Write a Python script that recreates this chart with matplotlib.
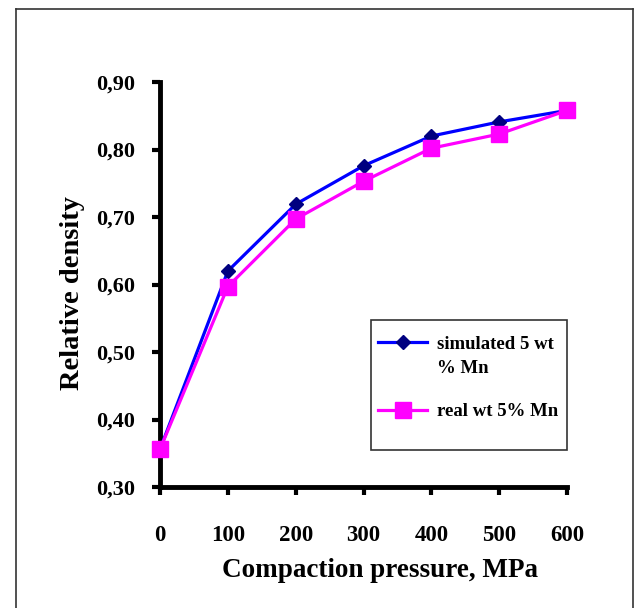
import matplotlib.pyplot as plt
from matplotlib.lines import Line2D
from matplotlib.patches import Rectangle
from matplotlib.ticker import FuncFormatter

pressure = [0, 100, 200, 300, 400, 500, 600]
simulated = [0.356, 0.620, 0.719, 0.776, 0.820, 0.841, 0.858]
real = [0.356, 0.597, 0.697, 0.753, 0.802, 0.823, 0.858]
yticks = [0.30, 0.40, 0.50, 0.60, 0.70, 0.80, 0.90]

plt.rcParams['font.family'] = ['Liberation Serif', 'DejaVu Serif']
plt.rcParams['font.weight'] = 'bold'

fig = plt.figure(figsize=(6.35, 6.08), dpi=100)
ax = fig.add_axes([0.252, 0.199, 0.641, 0.666])

# outer frame (open at the bottom)
for xs, ys in [([0.025, 0.025], [-0.1, 0.986]),
               ([0.025, 0.997], [0.986, 0.986]),
               ([0.997, 0.997], [0.986, -0.1])]:
    fig.add_artist(Line2D(xs, ys, transform=fig.transFigure, color='#333333', lw=1.2))

ax.plot(pressure, simulated, color='#0000ff', lw=2.3, marker='D', markersize=7,
        markerfacecolor='#000080', markeredgecolor='#000080', label='simulated 5 wt',
        zorder=3, clip_on=False)
ax.plot(pressure, real, color='#ff00ff', lw=2.3, marker='s', markersize=11,
        markerfacecolor='#ff00ff', markeredgecolor='#ff00ff', label='real wt 5% Mn',
        zorder=4, clip_on=False)

ax.set_xlim(0, 600)
ax.set_ylim(0.30, 0.90)
ax.set_xticks(pressure)
ax.set_yticks(yticks)
ax.yaxis.set_major_formatter(FuncFormatter(lambda v, p: f'{v:.2f}'.replace('.', ',')))

for s in ['top', 'right']:
    ax.spines[s].set_visible(False)
for s in ['left', 'bottom']:
    ax.spines[s].set_linewidth(3.5)
    ax.spines[s].set_capstyle('projecting')
ax.tick_params(axis='both', width=3, length=6, direction='out', labelsize=16)
ax.tick_params(axis='x', pad=21, labelsize=16.5)
ax.tick_params(axis='y', pad=12)
for lab in ax.get_xticklabels() + ax.get_yticklabels():
    lab.set_fontweight('bold')

ax.set_xlabel('Compaction pressure, MPa', fontsize=19.5, fontweight='bold')
ax.xaxis.set_label_coords(0.54, -0.175)
ax.set_ylabel('Relative density', fontsize=20.5, fontweight='bold')
ax.yaxis.set_label_coords(-0.185, 0.48)

# legend box, taller than its two entries
ax.add_patch(Rectangle((0.518, 0.091), 0.482, 0.321, transform=ax.transAxes,
                       facecolor='white', edgecolor='#333333', lw=1.2, zorder=5, clip_on=False))
leg = ax.legend(loc='upper left', bbox_to_anchor=(0.536, 0.374), fontsize=13.5,
                frameon=False, borderpad=0, labelspacing=2.7,
                handlelength=2.6, handletextpad=0.55, borderaxespad=0)
leg.set_zorder(6)
for t in leg.get_texts():
    t.set_fontweight('bold')

# wrapped second line of the first legend label
ax.annotate('% Mn', xy=(0, 0), xycoords=leg.get_texts()[0], xytext=(0, -24),
            textcoords='offset pixels', ha='left', va='bottom', fontsize=13.5,
            fontweight='bold', zorder=7)

fig.savefig('out.png', dpi=100)
